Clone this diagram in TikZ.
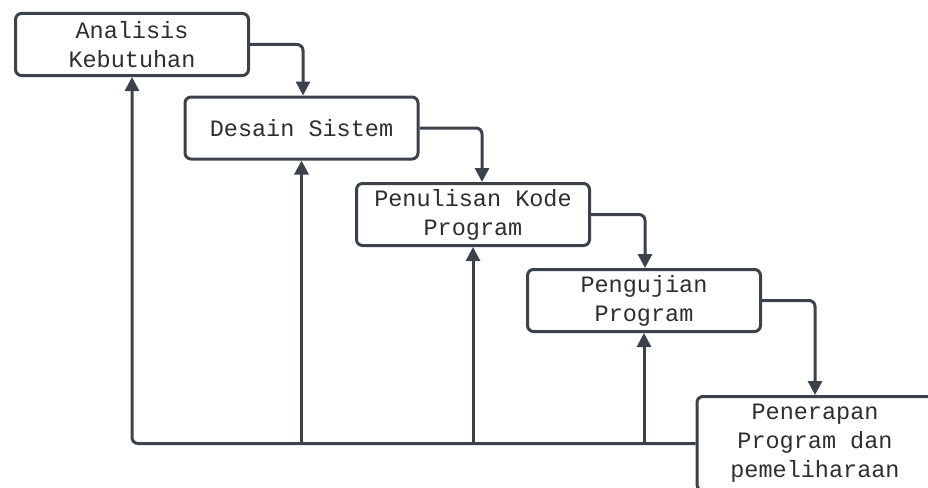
\documentclass[tikz,border=0pt]{standalone}
\usepackage{fontspec}
\setmonofont{Liberation Mono}
\usetikzlibrary{arrows.meta}
\definecolor{linegray}{HTML}{3B424B}
\definecolor{textgray}{HTML}{2E2E2E}
\begin{document}
\begin{tikzpicture}
  [x=1pt,y=-1pt
  ,phase/.style={rectangle,draw=linegray,line width=3pt,rounded corners=6pt,minimum width=233pt,minimum height=62pt,align=center,text=textgray,font=\ttfamily\fontsize{23.5}{29}\selectfont}
  ,flow/.style={draw=linegray,line width=3pt,rounded corners=6pt,-{Triangle[length=14pt,width=14pt]}}]
\useasboundingbox (0,0) rectangle (928,487);
\node at (132,44.5) (analisis) [phase,text depth=1pt] {Analisis\\Kebutuhan};
\node at (301.5,128) (desain) [phase] {Desain Sistem};
\node at (473,214.5) (kode) [phase] {Penulisan Kode\\Program};
\node at (644,300.5) (uji) [phase] {Pengujian\\Program};
\node at (815,443.5) (terap) [phase,minimum width=236pt,minimum height=94pt] {Penerapan\\Program dan\\pemeliharaan};
\draw [flow] (analisis.east) -| ([xshift=1.5pt]desain.north);
\draw [flow] (desain.east)   -| ([xshift=9pt]kode.north);
\draw [flow] (kode.east)     -| ([xshift=1pt]uji.north);
\draw [flow] (uji.east)      -| (terap.north);
%
\draw [flow] (terap.west) -| (analisis.south);
\draw [flow] (desain.south |- terap.west) -- (desain.south);
\draw [flow] (kode.south |- terap.west)   -- (kode.south);
\draw [flow] (uji.south |- terap.west)    -- (uji.south);
\end{tikzpicture}
\end{document}
